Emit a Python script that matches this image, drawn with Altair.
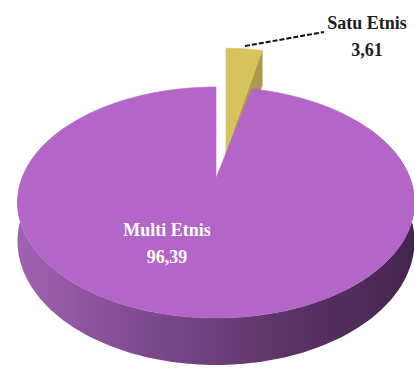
import altair as alt
import pandas as pd

# ---- data ----
categories = ["Satu Etnis", "Multi Etnis"]
values = [3.61, 96.39]

# ---- styles ----
top_colors = ["#d5c45e", "#b366c8"]
cut_colors = ["#ad994c", "#7a4689"]
label_colors = ["#1e1e1e", "#ffffff"]

# ---- layout (pixels) ----
W, H = 414, 369
CX, CY = 216, 178          # pie centre on screen
R, K, P, D = 194.0, 110.3, 0.212, 37.0   # radius x, radius y, perspective, depth
N = 180
EXPLODE = {"Satu Etnis": (10, -26, 1.14)}   # dx, dy, y-stretch
LABEL_POS = {"Multi Etnis": (167, 231, 258), "Satu Etnis": (367, 24, 51)}
LEADER = {"x": [245, 324], "y": [46, 32]}


def tern(i):
    default = 1 if i == 2 else 0
    return " : ".join(f"datum.category === '{c}' ? {v[i]}" for c, v in EXPLODE.items()) + f" : {default}"


def sx(a):
    return f"({CX} + datum.ox + {R}*sin({a})/(1 + {P}*cos({a})))"


def pyy(a, depth=0.0):
    return f"({CY} + datum.oy + datum.sy*(-{K}*cos({a}) + {depth})/(1 + {P}*cos({a})))"


df = pd.DataFrame({"category": categories, "value": values,
                   "order": list(range(len(categories)))})


def base():
    return (alt.Chart(df)
            .transform_joinaggregate(total="sum(value)")
            .transform_window(cum="sum(value)", sort=[alt.SortField("order")], frame=[None, 0])
            .transform_calculate(a0="2*PI*(datum.cum - datum.value)/datum.total")
            .transform_calculate(a1="2*PI*datum.cum/datum.total")
            .transform_calculate(ox=tern(0))
            .transform_calculate(oy=tern(1))
            .transform_calculate(sy=tern(2)))


xenc = alt.X("x:Q", scale=alt.Scale(domain=[0, W]), axis=None)
yenc = alt.Y("y:Q", scale=alt.Scale(domain=[0, H], reverse=True), axis=None)

# top faces
top = (base()
       .transform_calculate(k=f"sequence(0, {N + 3})")
       .transform_flatten(["k"])
       .transform_calculate(a=f"datum.a0 + (datum.a1 - datum.a0)*(datum.k - 1)/{N}")
       .transform_calculate(x=f"(datum.k == 0 || datum.k == {N + 2}) ? {CX} + datum.ox : {sx('datum.a')}")
       .transform_calculate(y=f"(datum.k == 0 || datum.k == {N + 2}) ? {CY} + datum.oy : {pyy('datum.a')}")
       .mark_line(strokeWidth=0.6, interpolate="linear")
       .encode(x=xenc, y=yenc, order=alt.Order("k:Q"), detail="category:N",
               fill=alt.Fill("category:N", scale=alt.Scale(domain=categories, range=top_colors), legend=None),
               stroke=alt.Stroke("category:N", scale=alt.Scale(domain=categories, range=top_colors), legend=None)))

# outer side (front part)
side_grad = alt.Gradient(
    gradient="linear", x1=0, x2=1, y1=0, y2=0,
    stops=[alt.GradientStop(color="#a062b2", offset=0),
           alt.GradientStop(color="#7e4a8e", offset=0.32),
           alt.GradientStop(color="#5d3469", offset=0.66),
           alt.GradientStop(color="#44254e", offset=1)])
side = (base()
        .transform_calculate(lo="max(datum.a0, PI/3)")
        .transform_calculate(hi="min(datum.a1, 5*PI/3)")
        .transform_filter("datum.lo < datum.hi")
        .transform_calculate(k=f"sequence(0, {2 * N + 2})")
        .transform_flatten(["k"])
        .transform_calculate(a=f"datum.k <= {N} ? datum.lo + (datum.hi - datum.lo)*datum.k/{N} : datum.hi - (datum.hi - datum.lo)*(datum.k - {N + 1})/{N}")
        .transform_calculate(x=sx("datum.a"))
        .transform_calculate(y=f"datum.k <= {N} ? {pyy('datum.a')} : {pyy('datum.a', D)}")
        .mark_line(fill=side_grad, strokeOpacity=0, strokeWidth=0)
        .encode(x=xenc, y=yenc, order=alt.Order("k:Q"), detail="category:N"))

# radial cut face of exploded slice
cut = (base()
       .transform_filter("datum.a1 < PI")
       .transform_calculate(k="sequence(0, 5)")
       .transform_flatten(["k"])
       .transform_calculate(x=f"(datum.k == 0 || datum.k == 3 || datum.k == 4) ? {CX} + datum.ox : {sx('datum.a1')}")
       .transform_calculate(y=f"(datum.k == 0 || datum.k == 4) ? {CY} + datum.oy : datum.k == 1 ? {pyy('datum.a1')} : datum.k == 2 ? {pyy('datum.a1', D)} : {CY} + datum.oy + datum.sy*{D}")
       .mark_line(strokeWidth=0.6)
       .encode(x=xenc, y=yenc, order=alt.Order("k:Q"), detail="category:N",
               fill=alt.Fill("category:N", scale=alt.Scale(domain=categories, range=cut_colors), legend=None),
               stroke=alt.Stroke("category:N", scale=alt.Scale(domain=categories, range=cut_colors), legend=None)))

# labels
rows = []
for c, v, col in zip(categories, values, label_colors):
    lx, ly1, ly2 = LABEL_POS[c]
    rows.append({"t": c, "x": lx, "y": ly1, "c": col})
    rows.append({"t": f"{v:.2f}".replace(".", ","), "x": lx, "y": ly2, "c": col})
labels = (alt.Chart(pd.DataFrame(rows))
          .mark_text(font="Liberation Serif", fontWeight="bold", fontSize=18,
                     align="center", baseline="middle")
          .encode(x=xenc, y=yenc, text="t:N", color=alt.Color("c:N", scale=None)))

leader = (alt.Chart(pd.DataFrame(LEADER))
          .mark_line(color="#111111", strokeWidth=2, strokeDash=[5, 2])
          .encode(x=xenc, y=yenc))

chart = (alt.layer(cut, side, top, leader, labels)
         .resolve_scale(fill="independent", stroke="independent")
         .properties(width=W, height=H, autosize="none", padding=0)
         .configure_view(stroke=None))

chart.save("out.html", embed_options={"renderer": "svg", "actions": False})
